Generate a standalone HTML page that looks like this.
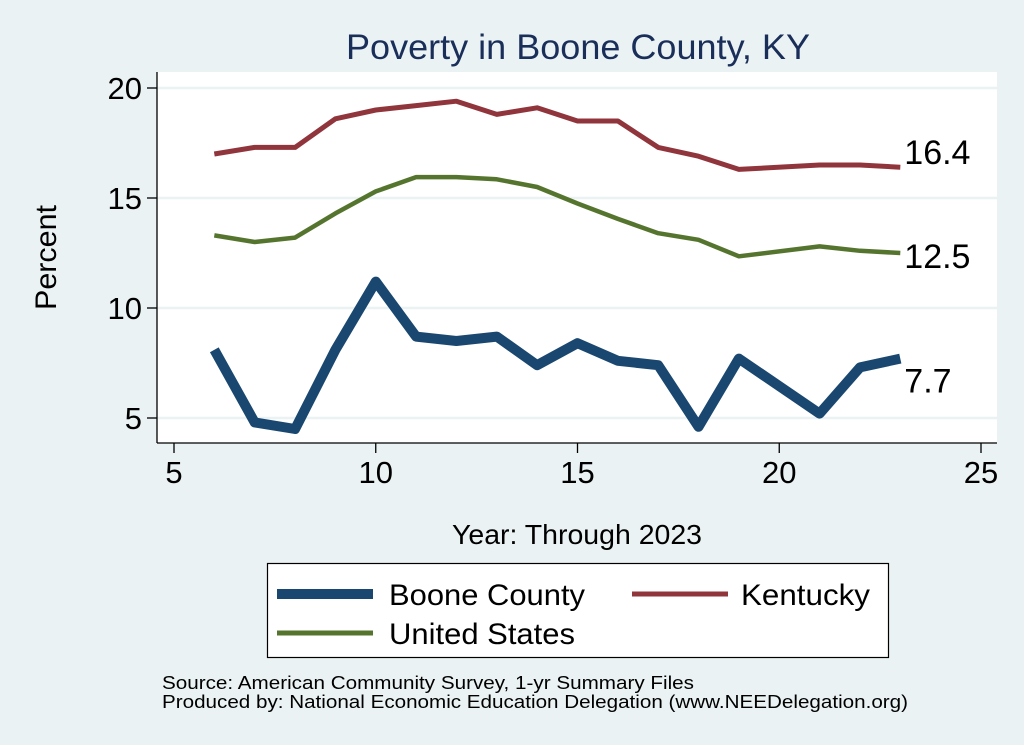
<!DOCTYPE html>
<html><head><meta charset="utf-8"><style>
html,body{margin:0;padding:0;background:#EAF2F3;}
svg{display:block;font-family:"Liberation Sans",Arial,sans-serif;}
</style></head><body>
<svg id="chart" width="1024" height="745" viewBox="0 0 1024 745">
<rect x="0" y="0" width="1024" height="745" fill="#EAF2F3"/>
<text x="346" y="59" font-size="35" fill="#1A2E5A" textLength="464" lengthAdjust="spacingAndGlyphs">Poverty in Boone County, KY</text>
<rect x="157" y="72" width="840" height="371" fill="#ffffff"/>
<g id="grid"></g>
<g id="axes"></g>
<g id="series"></g>
<text x="0" y="0" font-size="30" fill="#000" textLength="105" lengthAdjust="spacingAndGlyphs" transform="translate(56 310) rotate(-90)">Percent</text>
<text x="452" y="544" font-size="28" fill="#000" textLength="250" lengthAdjust="spacingAndGlyphs">Year: Through 2023</text>
<g>
<rect x="267.5" y="563.5" width="621" height="94" fill="#fff" stroke="#000" stroke-width="1.2"/>
<line x1="277" y1="594" x2="373" y2="594" stroke="#1A476F" stroke-width="10"/>
<text x="389" y="605" font-size="30" textLength="196" lengthAdjust="spacingAndGlyphs">Boone County</text>
<line x1="632" y1="594" x2="728" y2="594" stroke="#90353B" stroke-width="5"/>
<text x="741" y="605" font-size="30" textLength="129" lengthAdjust="spacingAndGlyphs">Kentucky</text>
<line x1="277" y1="633" x2="373" y2="633" stroke="#55752F" stroke-width="5"/>
<text x="389" y="644" font-size="30" textLength="186" lengthAdjust="spacingAndGlyphs">United States</text>
</g>
<text x="162" y="689" font-size="18" textLength="532" lengthAdjust="spacingAndGlyphs">Source: American Community Survey, 1-yr Summary Files</text>
<text x="162" y="708" font-size="18" textLength="746" lengthAdjust="spacingAndGlyphs">Produced by: National Economic Education Delegation (www.NEEDelegation.org)</text>
</svg>
<script>
const years = [6,7,8,9,10,11,12,13,14,15,16,17,18,19,21,22,23];
const booneValues = [8.1,4.8,4.5,8.1,11.2,8.7,8.5,8.7,7.4,8.4,7.6,7.4,4.6,7.7,5.2,7.3,7.7];
const kentuckyValues = [17.0,17.3,17.3,18.6,19.0,19.2,19.4,18.8,19.1,18.5,18.5,17.3,16.9,16.3,16.5,16.5,16.4];
const usValues = [13.3,13.0,13.2,14.3,15.3,15.95,15.95,15.85,15.5,14.75,14.05,13.4,13.1,12.35,12.8,12.6,12.5];
const xTicks = [5,10,15,20,25];
const yTicks = [5,10,15,20];
const endLabels = ["7.7","16.4","12.5"];

const NS="http://www.w3.org/2000/svg";
function xs(v){return 174+(v-5)*(981-174)/20;}
function ys(v){return 418-(v-5)*(418-88)/15;}
function mk(tag,attrs,parent){const e=document.createElementNS(NS,tag);for(const k in attrs)e.setAttribute(k,attrs[k]);parent.appendChild(e);return e;}

const grid=document.getElementById('grid'),axes=document.getElementById('axes'),ser=document.getElementById('series');
yTicks.forEach(t=>{
  const g=mk('line',{x1:157,x2:997,y1:ys(t),y2:ys(t),stroke:'#EAF2F3','stroke-width':2.5},grid);
  
  
  const tk=mk('line',{x1:147,x2:157,y1:ys(t),y2:ys(t),stroke:'#000','stroke-width':1.3},axes);
  
  
  const tx=mk('text',{x:142,y:ys(t)+11,'font-size':31,'text-anchor':'end'},axes);
  tx.textContent=t;
  
  
});
xTicks.forEach(t=>{
  const tk=mk('line',{x1:xs(t),x2:xs(t),y1:443,y2:453,stroke:'#000','stroke-width':1.3},axes);
  
  
  const tx=mk('text',{x:xs(t),y:483,'font-size':31,'text-anchor':'middle'},axes);
  tx.textContent=t;
  
  
});
const ya=mk('line',{x1:157,x2:157,y1:72,y2:443,stroke:'#000','stroke-width':1.3},axes);


const xa=mk('line',{x1:157,x2:997,y1:443,y2:443,stroke:'#000','stroke-width':1.3},axes);



function line(vals,color,w,name){
  const d=vals.map((v,i)=>(i?'L':'M')+xs(years[i]).toFixed(1)+' '+ys(v).toFixed(1)).join(' ');
  const p=mk('path',{d:d,fill:'none',stroke:color,'stroke-width':w,'stroke-linejoin':'round'},ser);
  
  
}
line(kentuckyValues,'#90353B',5,'kentucky-line');
line(usValues,'#55752F',4.5,'us-line');
line(booneValues,'#1A476F',10,'boone-line');

const lastX=xs(years[years.length-1]);
const lb=[[booneValues,endLabels[0],'boone-end-label',34],[kentuckyValues,endLabels[1],'kentucky-end-label',-3],[usValues,endLabels[2],'us-end-label',15]];
lb.forEach(([vals,txt,name,dy])=>{
  const t=mk('text',{x:lastX+4,y:ys(vals[vals.length-1])+dy,'font-size':34},ser);
  t.textContent=txt;
  
  
});
</script>
</body></html>
